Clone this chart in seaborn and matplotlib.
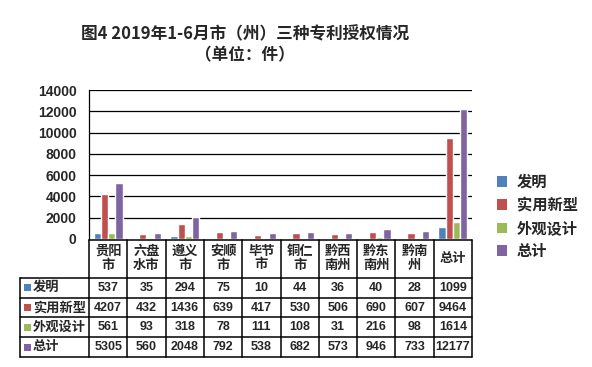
import numpy as np
import pandas as pd
import seaborn as sns
import matplotlib.pyplot as plt
from matplotlib.transforms import blended_transform_factory
from matplotlib.patches import Rectangle

# data
regions = ['贵阳市', '六盘水市', '遵义市', '安顺市', '毕节市', '铜仁市', '黔西南州', '黔东南州', '黔南州', '总计']
region_labels = ['贵阳\n市', '六盘\n水市', '遵义\n市', '安顺\n市', '毕节\n市', '铜仁\n市', '黔西\n南州', '黔东\n南州', '黔南\n州', '总计']
series = ['发明', '实用新型', '外观设计', '总计']
invention = [537, 35, 294, 75, 10, 44, 36, 40, 28, 1099]
utility = [4207, 432, 1436, 639, 417, 530, 506, 690, 607, 9464]
design = [561, 93, 318, 78, 111, 108, 31, 216, 98, 1614]
total = [5305, 560, 2048, 792, 538, 682, 573, 946, 733, 12177]
colors = ['#4F81BD', '#C0504D', '#9BBB59', '#8064A2']

values = [invention, utility, design, total]
df = pd.DataFrame({
    'region': regions * 4,
    'type': np.repeat(series, len(regions)),
    'value': np.concatenate(values),
})

sns.set_style('white')
plt.rcParams['font.family'] = ['Liberation Sans', 'Noto Sans CJK SC', 'DejaVu Sans']
plt.rcParams['font.weight'] = 'bold'

fig = plt.figure(figsize=(5.92, 3.67), dpi=100)
ax = fig.add_axes([89 / 592, 1 - 239 / 367, 383 / 592, 149 / 367])

sns.barplot(data=df, x='region', y='value', hue='type', hue_order=series,
            palette=colors, width=0.75, saturation=1, legend=False, ax=ax)

ax.set_xlim(-0.5, len(regions) - 0.5)
ax.set_ylim(0, 14000)
ax.set_yticks(range(0, 14001, 2000))
ax.set_yticklabels([str(v) for v in range(0, 14001, 2000)], fontsize=10, fontweight='bold')
ax.set_xticks([])
ax.set_xlabel('')
ax.set_ylabel('')
ax.tick_params(axis='y', length=0, pad=9)
for y in range(2000, 14001, 2000):
    ax.axhline(y, color='black', lw=0.9, zorder=0)
for s in ['top', 'right', 'bottom']:
    ax.spines[s].set_visible(False)
ax.spines['left'].set_color('black')
ax.spines['left'].set_linewidth(0.9)

# data table under the axis
tr = blended_transform_factory(ax.transData, ax.transAxes)
px = 1 / 149  # one pixel in axes height
head_bot = -39 * px
row_h = 19.75 * px
rows_bot = head_bot - 4 * row_h
lab_left = -0.5 - 69 / 38.3
right = len(regions) - 0.5
kw = dict(transform=tr, color='black', lw=1.1, clip_on=False)

ax.plot([-0.5, right], [-1.5 * px, -1.5 * px], **kw)
for i in range(4):
    y = head_bot - i * row_h
    ax.plot([lab_left, right], [y, y], **kw)
ax.plot([lab_left, right], [rows_bot, rows_bot], **kw)
for i in range(len(regions) + 1):
    ax.plot([i - 0.5, i - 0.5], [-1.5 * px, rows_bot], **kw)
ax.plot([lab_left, lab_left], [head_bot, rows_bot], **kw)

for i, lab in enumerate(region_labels):
    ax.text(i, head_bot / 2, lab, transform=tr, ha='center', va='center',
            fontsize=9.5, fontweight='bold', linespacing=1.15)

for r, (name, vals, c) in enumerate(zip(series, values, colors)):
    yc = head_bot - (r + 0.5) * row_h
    ax.add_patch(Rectangle((lab_left + 4 / 38.3, yc - 3.5 * px), 7 / 38.3, 7 * px,
                           transform=tr, facecolor=c, edgecolor='none', clip_on=False))
    ax.text(lab_left + 13 / 38.3, yc, name, transform=tr, ha='left', va='center',
            fontsize=9.5, fontweight='bold')
    for i, v in enumerate(vals):
        ax.text(i, yc, str(v), transform=tr, ha='center', va='center',
                fontsize=9, fontweight='bold')

handles = [Rectangle((0, 0), 1, 1, facecolor=c, edgecolor='none') for c in colors]
leg = fig.legend(handles, series, loc='center left', bbox_to_anchor=(483 / 592, 1 - 217 / 367),
                 frameon=False, handlelength=0.7, handleheight=0.7, handletextpad=0.6,
                 labelspacing=0.55, prop={'size': 11, 'weight': 'bold'})

fig.text(245 / 592, 1 - 34 / 367, '图4 2019年1-6月市（州）三种专利授权情况', ha='center', va='center',
         fontsize=12, fontweight='bold', family=['Noto Sans CJK SC', 'DejaVu Sans'])
fig.text(245 / 592, 1 - 55 / 367, '（单位：件）', ha='center', va='center',
         fontsize=12, fontweight='bold', family=['Noto Sans CJK SC', 'DejaVu Sans'])

fig.savefig('out.png', dpi=100)
